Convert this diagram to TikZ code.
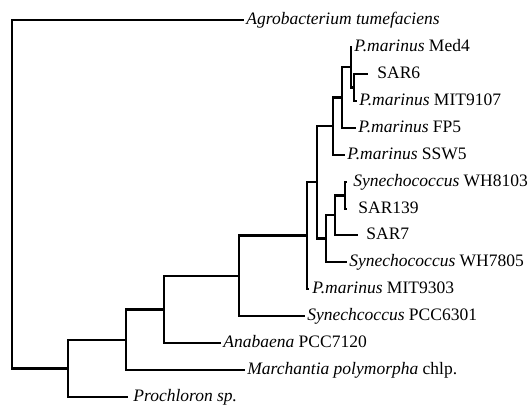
\documentclass[tikz,border=0pt]{standalone}
\usepackage{fontspec}
\setmainfont{Liberation Serif}
\tikzset{
  leaf/.style={anchor=west,inner xsep=1pt,inner ysep=0pt,
    text height=1.2ex,text depth=0.2ex,font=\fontsize{8.75}{10}\selectfont}
}
\begin{document}
\begin{tikzpicture}[x=0.5pt,y=-0.5pt]
  \useasboundingbox (0,0) rectangle (530,410);
  \path
    (12,194) coordinate (r)
    (68,368.5) coordinate (a)
    (126,340) coordinate (b)
    (164,309.5) coordinate (c)
    (239,276) coordinate (d)
    (307,235.5) coordinate (e)
    (317,182) coordinate (f)
    (326,238.5) coordinate (g)
    (335,215) coordinate (h)
    (345,195.5) coordinate (i)
    (333,126) coordinate (l)
    (342,97.5) coordinate (k)
    (351,67) coordinate (m)
    (354,87.5) coordinate (n)
    (244,20) node[leaf] (agro){\textit{Agrobacterium tumefaciens}}
    (352,47) node[leaf] (med4){\textit{P.marinus} Med4}
    (368,74) node[leaf,inner xsep=4.5pt] (sar6){SAR6}
    (357,101) node[leaf] (mit9107){\textit{P.marinus} MIT9107}
    (356,128) node[leaf] (fp5){\textit{P.marinus} FP5}
    (345,155) node[leaf] (ssw5){\textit{P.marinus} SSW5}
    (347,182) node[leaf,inner xsep=3pt] (wh8103){\textit{Synechococcus} WH8103}
    (347,209) node[leaf,inner xsep=5.5pt] (sar139){SAR139}
    (358,235) node[leaf,inner xsep=4pt] (sar7){SAR7}
    (347,262) node[leaf] (wh7805){\textit{Synechococcus} WH7805}
    (309,289) node[leaf,inner xsep=1.5pt] (mit9303){\textit{P.marinus} MIT9303}
    (305,316) node[leaf] (pcc6301){\textit{Synechcoccus} PCC6301}
    (221,343) node[leaf] (pcc7120){\textit{Anabaena} PCC7120}
    (245,370) node[leaf] (march){\textit{Marchantia polymorpha} chlp.}
    (128,397) node[leaf,inner xsep=2.5pt] (proch){\textit{Prochloron sp.}};
  \begin{scope}[line width=1.1pt]
    \draw (r) |- (agro.west);
    \draw (r) |- (a);
    \draw (a) |- (b);
    \draw (a) |- (proch.west);
    \draw (b) |- (c);
    \draw (b) |- (march.west);
    \draw (c) |- (d);
    \draw (c) |- (pcc7120.west);
    \draw (d) |- (e);
    \draw (d) |- (pcc6301.west);
    \draw (e) |- (f);
    \draw (e) |- (mit9303.west);
    \draw (f) |- (l);
    \draw (f) |- (g);
    \draw (l) |- (k);
    \draw (l) |- (ssw5.west);
    \draw (k) |- (m);
    \draw (k) |- (fp5.west);
    \draw (m) |- (med4.west);
    \draw (m) |- (n);
    \draw (n) |- (sar6.west);
    \draw (n) |- (mit9107.west);
    \draw (g) |- (h);
    \draw (g) |- (wh7805.west);
    \draw (h) |- (i);
    \draw (h) |- (sar7.west);
    \draw (i) |- (wh8103.west);
    \draw (i) |- (sar139.west);
  \end{scope}
\end{tikzpicture}
\end{document}
